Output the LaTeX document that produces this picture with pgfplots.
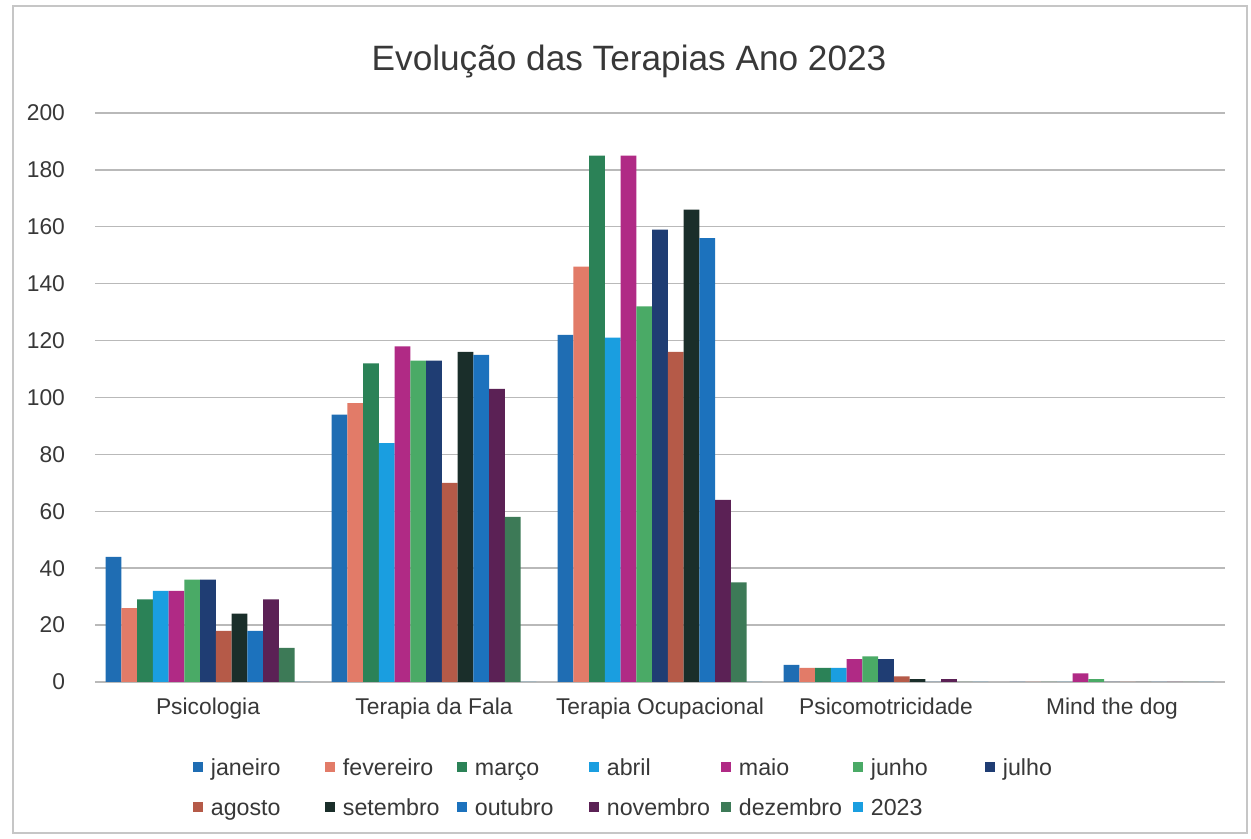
\documentclass[border=0pt]{standalone}
\usepackage{fontspec}
\setmainfont{Liberation Sans}
\usepackage{pgfplots}
\pgfplotsset{compat=1.18}
\definecolor{cjan}{HTML}{1F6DB3}
\definecolor{cfev}{HTML}{E27B68}
\definecolor{cmar}{HTML}{2B8257}
\definecolor{cabr}{HTML}{1A9EE0}
\definecolor{cmai}{HTML}{B02A85}
\definecolor{cjun}{HTML}{4AAA66}
\definecolor{cjul}{HTML}{1F3D73}
\definecolor{cago}{HTML}{B55A48}
\definecolor{cset}{HTML}{1A2E2A}
\definecolor{cout}{HTML}{1C72BD}
\definecolor{cnov}{HTML}{5B2155}
\definecolor{cdez}{HTML}{3D7A57}
\definecolor{cano}{HTML}{1A9EE0}
\pgfplotsset{
  mybar/.style={fill=#1, draw=none,
    legend image code/.code={\fill[fill=#1] (0pt,-2.5pt) rectangle (5pt,2.5pt);}},
}
\newcommand{\lgx}[1]{\makebox[54pt][l]{\strut#1}}
\begin{document}
\begin{tikzpicture}
\useasboundingbox (0,0) rectangle (625.5pt,419.5pt);
\fill[white] (0,0) rectangle (625.5pt,419.5pt);
\draw[gray!45, line width=0.8pt] (6.5pt,3pt) rectangle (623.5pt,416.5pt);
\node[font=\fontsize{17.6}{20}\selectfont, text=black!78] at (314.5pt,389pt) {Evolução das Terapias Ano 2023};
\begin{axis}[
  at={(47.5pt,78.5pt)}, anchor=south west,
  scale only axis, width=565pt, height=284.5pt,
  xmin=-0.5, xmax=4.5, ymin=0, ymax=200,
  ytick={0,20,...,200},
  xtick={0,1,2,3,4},
  xticklabels={Psicologia, Terapia da Fala, Terapia Ocupacional, Psicomotricidade, Mind the dog},
  ymajorgrids, grid style={gray!55, line width=0.7pt},
  axis line style={draw=none}, major tick style={draw=none},
  tick label style={font=\fontsize{11.4}{13}\selectfont, text=black!78},
  yticklabel style={xshift=-11.5pt},
  xticklabel style={yshift=0pt},
  /pgf/number format/assume math mode=true,
  ybar=0pt, bar width=0.0697,
  legend columns=7,
  legend style={at={(0.081,-0.115)}, anchor=north west, draw=none, fill=none,
    font=\fontsize{11.6}{14}\selectfont, text=black!78,
    row sep=4.5pt, column sep=1pt,
    /tikz/every odd column/.append style={column sep=2pt}},
  legend cell align=left,
]
\addplot[mybar=cjan, bar shift=-0.4182] coordinates {(0,44) (1,94) (2,122) (3,6) (4,0)};
\addplot[mybar=cfev, bar shift=-0.3485] coordinates {(0,26) (1,98) (2,146) (3,5) (4,0)};
\addplot[mybar=cmar, bar shift=-0.2788] coordinates {(0,29) (1,112) (2,185) (3,5) (4,0)};
\addplot[mybar=cabr, bar shift=-0.2091] coordinates {(0,32) (1,84) (2,121) (3,5) (4,0)};
\addplot[mybar=cmai, bar shift=-0.1394] coordinates {(0,32) (1,118) (2,185) (3,8) (4,3)};
\addplot[mybar=cjun, bar shift=-0.0697] coordinates {(0,36) (1,113) (2,132) (3,9) (4,1)};
\addplot[mybar=cjul, bar shift=0] coordinates {(0,36) (1,113) (2,159) (3,8) (4,0)};
\addplot[mybar=cago, bar shift=0.0697] coordinates {(0,18) (1,70) (2,116) (3,2) (4,0)};
\addplot[mybar=cset, bar shift=0.1394] coordinates {(0,24) (1,116) (2,166) (3,1) (4,0)};
\addplot[mybar=cout, bar shift=0.2091] coordinates {(0,18) (1,115) (2,156) (3,0) (4,0)};
\addplot[mybar=cnov, bar shift=0.2788] coordinates {(0,29) (1,103) (2,64) (3,1) (4,0)};
\addplot[mybar=cdez, bar shift=0.3485] coordinates {(0,12) (1,58) (2,35) (3,0) (4,0)};
\addplot[mybar=cano, bar shift=0.4182] coordinates {(0,0) (1,0) (2,0) (3,0) (4,0)};
\legend{\lgx{janeiro},\lgx{fevereiro},\lgx{março},\lgx{abril},\lgx{maio},\lgx{junho},\lgx{julho},
        \lgx{agosto},\lgx{setembro},\lgx{outubro},\lgx{novembro},\lgx{dezembro},\lgx{2023}}
\end{axis}
\end{tikzpicture}
\end{document}
